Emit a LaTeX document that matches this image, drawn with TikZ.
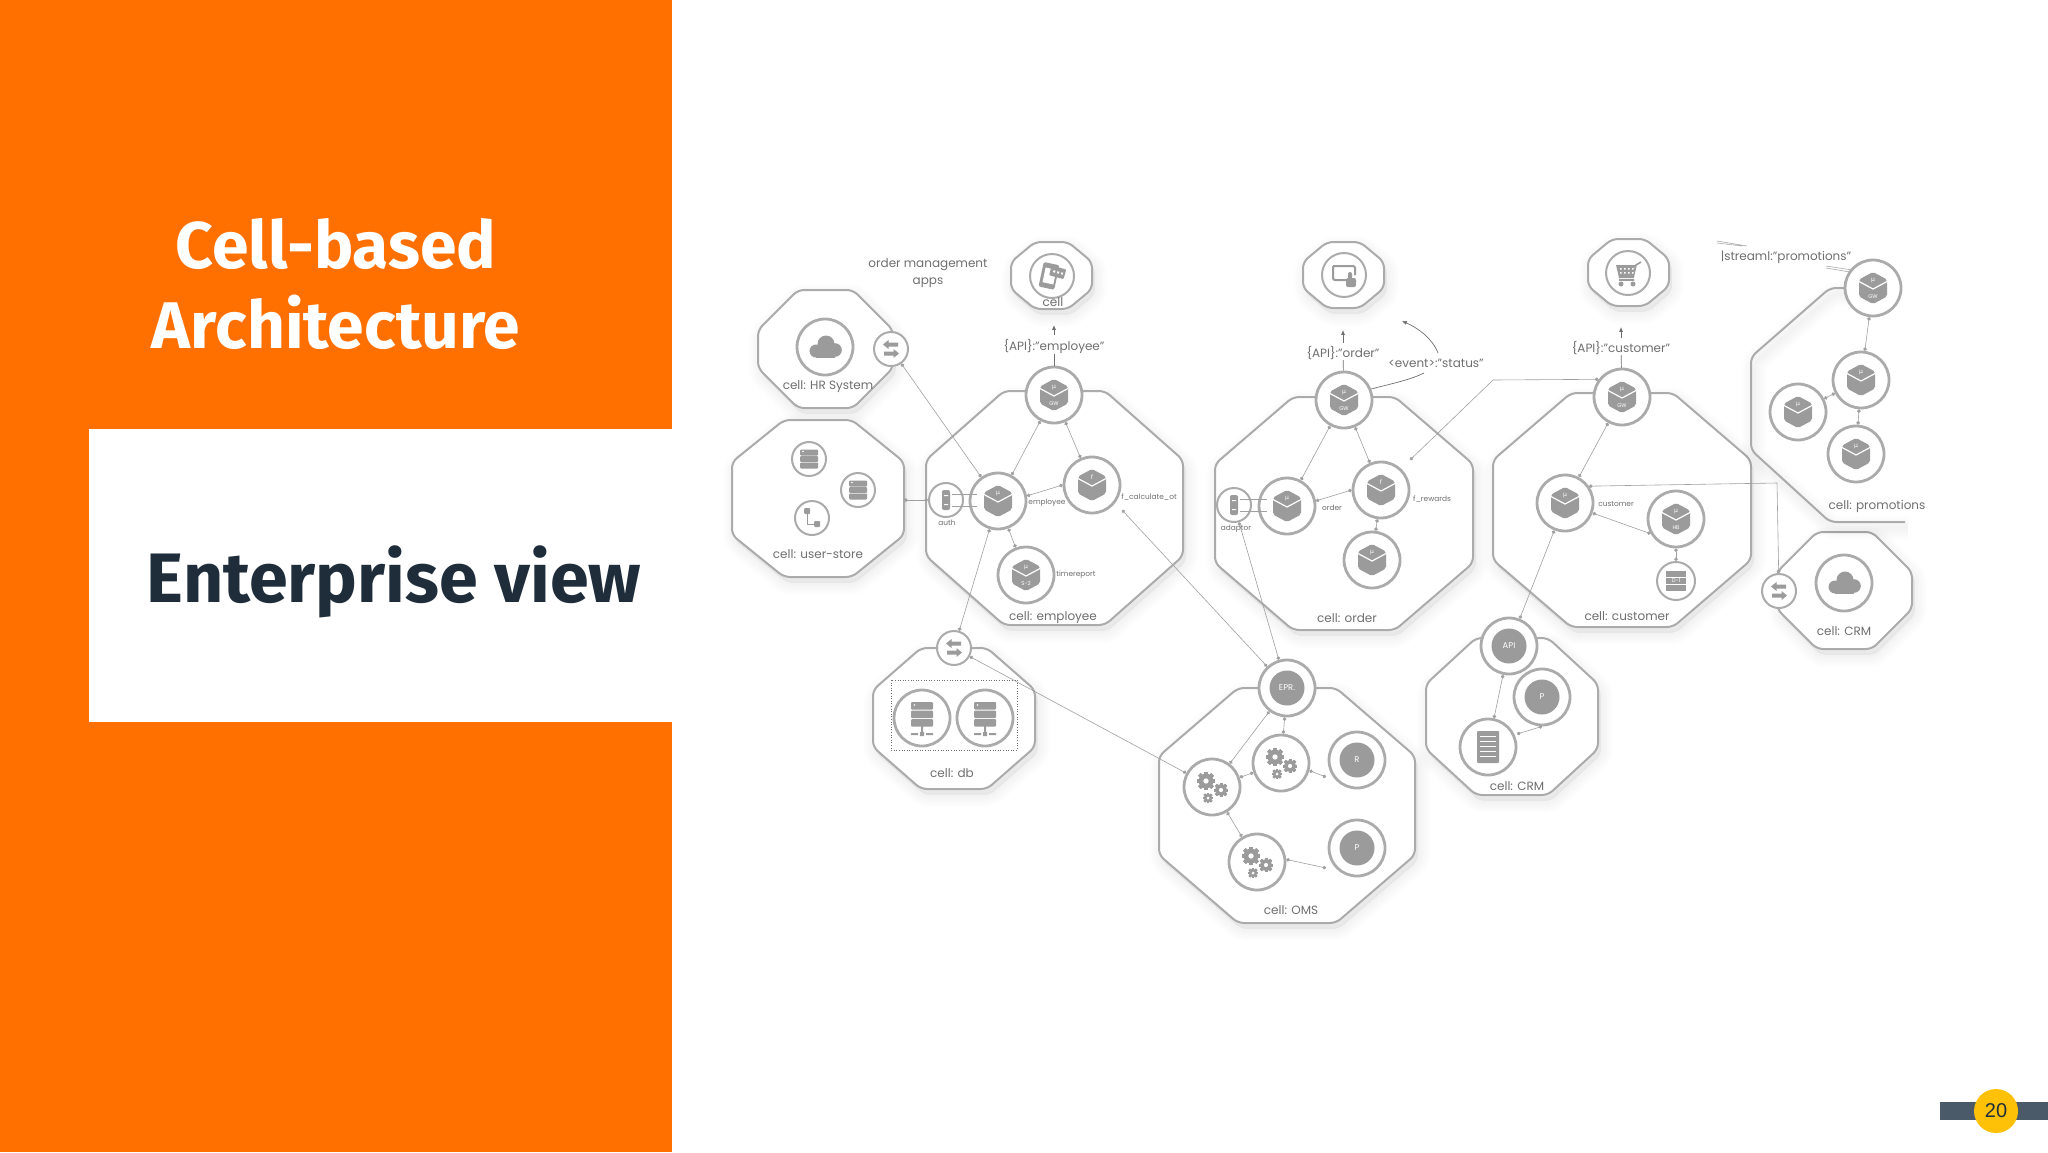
\documentclass[tikz,border=0pt]{standalone}
\usepackage{fontspec}
\setmainfont{Poppins}
\newfontfamily\titlefont{Fira Sans}[BoldFont={Fira Sans Bold}]
\newfontfamily\pagefont{Liberation Sans}
\newfontfamily\mufont{DejaVu Sans}
\usetikzlibrary{arrows.meta}
\definecolor{orangebg}{HTML}{FF7000}
\definecolor{darktxt}{HTML}{1F2D3A}
\definecolor{edgeg}{HTML}{ABABAB}
\definecolor{iconG}{HTML}{9B9B9B}
\definecolor{lineG}{HTML}{A0A0A0}
\definecolor{txtG}{HTML}{6F6F6F}
\definecolor{barG}{HTML}{4A5A68}
\definecolor{badge}{HTML}{FFC107}
\tikzset{
 cellpoly/.style={draw=edgeg,fill=white,line width=1pt,rounded corners=3pt,line join=round},
 shadowpoly/.style={draw=black,fill=black,opacity=.009,rounded corners=3pt},
 svc/.style={circle,draw=edgeg,fill=white,line width=1.4pt,minimum size=28pt,inner sep=0pt},
 svcs/.style={circle,draw=edgeg,fill=white,line width=1pt,minimum size=17pt,inner sep=0pt},
 svcm/.style={circle,draw=edgeg,fill=white,line width=1pt,minimum size=19pt,inner sep=0pt},
 svcl/.style={circle,draw=edgeg,fill=white,line width=1pt,minimum size=22pt,inner sep=0pt},
 link/.style={draw=lineG,line width=.3pt,{Circle[length=1.8pt]}-{Circle[length=1.8pt]}},
 plainlink/.style={draw=lineG,line width=.35pt},
 uparrow/.style={draw=txtG,line width=.35pt,-{Latex[length=2.4pt,width=2pt]}},
 lbl/.style={text=txtG,font=\fontsize{6}{7}\selectfont,inner sep=0pt,align=center},
 lbls/.style={text=txtG,font=\fontsize{3.7}{4}\selectfont,inner sep=0pt},
 intxt/.style={text=white,font=\fontsize{2.7}{3}\selectfont,inner sep=0pt},
 fillI/.style={fill=iconG,draw=none},
}
\newcommand\octpath[6]{({#1+#5},#2)--({#3-#5},#2)--(#3,{#2+#6})--(#3,{#4-#6})--({#3-#5},#4)--({#1+#5},#4)--(#1,{#4-#6})--(#1,{#2+#6})--cycle}
\newcommand\octa[6]{%
 \foreach \w in {12,10,8,6,4,2}{\draw[shadowpoly,line width=\w pt,shift={(1.5pt,-3pt)}] \octpath{#1}{#2}{#3}{#4}{#5}{#6};}
 \draw[cellpoly] \octpath{#1}{#2}{#3}{#4}{#5}{#6};}
\newcommand\cubeicon[4]{\begin{scope}[shift={(#1,#2)}]
 \fill[fillI,rounded corners=1pt] (0,-16)--(14,-8.5)--(14,8.5)--(0,16)--(-14,8.5)--(-14,-8.5)--cycle;
 \draw[white,line width=.6pt] (-14,-6.5)--(0,1)--(14,-6.5);
 \node[intxt,font=\mufont\fontsize{3}{3}\selectfont] at (0,-8) {#3};
 \node[intxt] at (0,8.5) {#4};
\end{scope}}
\newcommand\cloudicon[2]{\begin{scope}[shift={(#1,#2)}]
 \fill[fillI] (1,-3) circle (8.5) (-9,4) circle (6.5) (10,3) circle (6.8);
 \fill[fillI] (-9,2) rectangle (10,10.5);
\end{scope}}
\newcommand\xchg[2]{\begin{scope}[shift={(#1,#2)}]
 \fill[fillI] (-8,-4.5)--(-2.5,-9)--(-2.5,-6.5)--(7,-6.5)--(7,-2.5)--(-2.5,-2.5)--(-2.5,0)--cycle;
 \fill[fillI] (8,4.5)--(2.5,0)--(2.5,2.5)--(-7,2.5)--(-7,6.5)--(2.5,6.5)--(2.5,9)--cycle;
\end{scope}}
\newcommand\stackicon[2]{\begin{scope}[shift={(#1,#2)}]
 \foreach \q in {-9.5,-3,3.5}{\fill[fillI,rounded corners=.5pt] (-9,\q) rectangle (9,{\q+6});}
 \fill[white] (-6,-7.5) circle (.8);
\end{scope}}
\newcommand\srvicon[2]{\begin{scope}[shift={(#1,#2)}]
 \foreach \q in {-16,-7.5,1}{\fill[fillI,rounded corners=.5pt] (-11,\q) rectangle (11,{\q+7.5});}
 \fill[white] (-7.5,-13) circle (.8);
 \fill[fillI] (-1,8) rectangle (1,18) (-11,15) rectangle (-4,17) (4,15) rectangle (11,17) (-2,14) rectangle (2,18);
\end{scope}}
\newcommand\gearone[3]{\begin{scope}[shift={(#1,#2)}]
 \foreach \a in {0,45,...,315}{\fill[fillI,rotate=\a] ({-#3*.26},{-#3*1.25}) rectangle ({#3*.26},{#3*1.25});}
 \fill[fillI] (0,0) circle (#3);
 \fill[white] (0,0) circle ({#3*.36});
\end{scope}}
\newcommand\gearicon[2]{\gearone{{#1-6}}{{#2-6}}{7.4}\gearone{{#1+9}}{{#2+3}}{5.8}\gearone{{#1-4}}{{#2+11}}{4.2}}
\newcommand\plainlabel[4]{\fill[fillI] (#1,#2) circle (17.5); \node[intxt,font=\fontsize{#4}{5}\selectfont] at (#1,#2) {#3};}
\begin{document}
\begin{tikzpicture}[x=.5pt,y=-.5pt]
\useasboundingbox (0,0) rectangle (2048,1152);
\fill[white] (0,0) rectangle (2048,1152);
\fill[orangebg] (0,0) rectangle (672,1152);
\fill[white] (89,429) rectangle (672,722);
\node[text=white,align=center,inner sep=0pt,font=\titlefont\bfseries\fontsize{33}{40}\selectfont] (title) at (336,284) {Cell-based\\Architecture};
\node[text=darktxt,inner sep=0pt,font=\titlefont\bfseries\fontsize{35}{40}\selectfont] (subtitle) at (394,582) {Enterprise view};
% page badge
\fill[barG] (1940,1102) rectangle (2048,1120);
\node[circle,fill=badge,minimum size=22pt,inner sep=0pt,text=darktxt,font=\pagefont\fontsize{10}{12}\selectfont] (page) at (1996,1111) {20};
% cells
\octa{758}{290}{893}{408}{40}{40}
\octa{732}{420}{904}{577}{52}{42}
\octa{926}{391}{1183}{625}{78}{69}
\octa{1011}{242}{1092}{309}{24}{20}
\octa{1303}{242}{1384}{308}{24}{20}
\octa{1588}{239}{1669}{306}{24}{20}
\octa{1215}{397}{1473}{630}{78}{67}
\octa{1493}{393}{1751}{627}{78}{67}
\octa{1777}{532}{1912}{649}{40}{40}
\octa{873}{648}{1035}{789}{48}{42}
\octa{1159}{688}{1415}{923}{79}{68}
\octa{1426}{638}{1598}{795}{50}{46}
% open promotions cell
\foreach \w in {12,10,8,6,4,2}{\draw[shadowpoly,fill=none,line width=\w pt,shift={(1.5pt,-3pt)}] (1873,288)--(1830,288)--(1751,357)--(1751,450)--(1830,522)--(1905,522);}
\draw[cellpoly,fill=none] (1873,288)--(1830,288)--(1751,357)--(1751,450)--(1830,522)--(1905,522);
% dotted group in db
\draw[draw=txtG,densely dotted,line width=.3pt] (891,680) rectangle (1017,750);
% services
\node[svcl] (appE) at (1052,276) {};
\node[svcl] (appO) at (1344,275) {};
\node[svcl] (appC) at (1628,273) {};
\node[svc] (hr) at (825,347) {};
\node[svcs] (hrx) at (891,349) {};
\node[svcs] (st1) at (809,459) {};
\node[svcs] (st2) at (858,490) {};
\node[svcs] (st3) at (812,518) {};
\node[svc] (gwE) at (1054,395) {};
\node[svcs] (auth) at (946,500) {};
\node[svc] (emp) at (998,501) {};
\node[svc] (fcalc) at (1092,485) {};
\node[svc] (trep) at (1026,575) {};
\node[svc] (gwO) at (1344,400) {};
\node[svcs] (adp) at (1234,505) {};
\node[svc] (ord) at (1287,506) {};
\node[svc] (frew) at (1381,490) {};
\node[svc] (ordb) at (1372,560) {};
\node[svc] (gwC) at (1622,397) {};
\node[svc] (cust) at (1565,503) {};
\node[svc] (hb) at (1676,519) {};
\node[svcm] (d1) at (1676,581) {};
\node[svc] (gwP) at (1873,288) {};
\node[svc] (pr1) at (1861,380) {};
\node[svc] (pr2) at (1798,412) {};
\node[svc] (pr3) at (1856,454) {};
\node[svc] (crmc) at (1844,583) {};
\node[svcs] (crmx) at (1779,591) {};
\node[svcs] (dbx) at (954,648) {};
\node[svc] (db1) at (922,718) {};
\node[svc] (db2) at (985,718) {};
\node[svc] (epr) at (1287,688) {};
\node[svc] (rr) at (1357,760) {};
\node[svc] (pp) at (1357,848) {};
\node[svc] (g2) at (1281,763) {};
\node[svc] (g1) at (1212,787) {};
\node[svc] (g3) at (1257,862) {};
\node[svc] (api) at (1509,646) {};
\node[svc] (cp) at (1542,697) {};
\node[svc] (rack) at (1488,747) {};
% free ends
\coordinate (fcalcEnd) at (1122,510);
\coordinate (cTurn) at (1493,380);
\coordinate (frewEnd) at (1410,460);
\coordinate (rrEnd) at (1326,777);
\coordinate (ppEnd) at (1326,868);
\coordinate (cpEnd) at (1517,734);
\coordinate (cBend) at (1777,483);
\coordinate (upE) at (1054,325);
\coordinate (upO) at (1343,330);
\coordinate (upC) at (1621,327);
\coordinate (evA) at (1402,321);
\coordinate (storeEdge) at (904,500);
\coordinate (evB) at (1424,373);
\coordinate (evC) at (1438,353);
% connectors
\draw[link] (hrx) -- (emp);
\draw[link] (gwE) -- (emp);
\draw[link] (gwE) -- (fcalc);
\draw[link] (emp.10) -- (fcalc.180);
\draw[link] (emp) -- (trep);
\draw[link] (auth) -- (storeEdge);
\draw[link] (emp) -- (dbx);
\draw[link] (fcalcEnd) -- (epr);
\draw[link] (gwO) -- (ord);
\draw[link] (gwO) -- (frew);
\draw[link] (ord.10) -- (frew.180);
\draw[link] (frew) -- (ordb);
\draw[link] (adp) -- (epr);
\draw[link] (gwC.143) -- (cTurn) -- (frewEnd);
\draw[link] (gwC) -- (cust);
\draw[link] (cust.-20) -- (hb.210);
\draw[link] (hb) -- (d1);
\draw[link] (cust) -- (api);
\draw[link] (cust.35) -- (cBend) -- (crmx);
\draw[link] (gwP) -- (pr1);
\draw[link] (pr1) -- (pr2);
\draw[link] (pr1) -- (pr3);
\draw[link] (dbx) -- (g1);
\draw[link] (epr) -- (g1);
\draw[link] (epr) -- (g2);
\draw[link] (g1) -- (g2);
\draw[link] (g2.-15) -- (rrEnd);
\draw[link] (g1) -- (g3);
\draw[link] (g3.5) -- (ppEnd);
\draw[link] (api) -- (rack);
\draw[link] (cp.-90) -- (cpEnd);
% auth / adaptor double ties
\draw[plainlink,line width=.5pt] (952,494)--(977,494) (952,506)--(977,506);
\draw[plainlink,line width=.5pt] (1240,499)--(1267,499) (1240,511)--(1267,511);
% labels with arrows
\node[lbl] (lE) at (1054,346) {\{API\}:"employee"};
\node[lbl] (lO) at (1343,353) {\{API\}:"order"};
\node[lbl] (lC) at (1621,348) {\{API\}:"customer"};
\node[lbl] (lEv) at (1436,363) {<event>:"status"};
\node[lbl] (lS) at (1786,257) {|streaml:"promotions"};
\draw[plainlink,draw=txtG] (gwE) -- (lE);
\draw[plainlink,draw=txtG] (gwO) -- (lO);
\draw[plainlink,draw=txtG] (gwC) -- (lC);
\draw[uparrow] (lE.north) ++(0,-3) -- (upE);
\draw[uparrow] (lO.north) ++(0,-3) -- (upO);
\draw[uparrow] (lC.north) ++(0,-3) -- (upC);
\draw[plainlink,draw=txtG] (gwO.22) .. controls (1390,384) and (1410,380) .. (evB);
\draw[uparrow] (evC) .. controls (1432,338) and (1418,328) .. (evA);
\draw[draw=edgeg,line width=.3pt] (1717,241)--(1747,246) (1717,243)--(1742,246);
\draw[draw=edgeg,line width=.3pt] (1826,266)--(1852,270) (1826,268)--(1850,272);
% icons
\begin{scope}[shift={(1052,276)}]
 \fill[fillI,rotate=-12,rounded corners=1pt] (-11,-12) rectangle (5,13);
 \fill[white,rotate=-12] (-8,-7) rectangle (3,8);
 \fill[fillI,rotate=-15,rounded corners=.5pt] (-3,-10) rectangle (12,0);
 \fill[white,rotate=-15] (0,-6) rectangle (2,-4) (4,-6) rectangle (6,-4) (8,-6) rectangle (10,-4);
\end{scope}
\begin{scope}[shift={(1344,275)}]
 \draw[iconG,line width=1pt,rounded corners=1pt] (-11,-9)--(-11,5)--(3,5) (5,-9)--(-11,-9) (11,0)--(11,-9)--(5,-9);
 \fill[fillI,rounded corners=1pt] (4,-3) rectangle (8,4) (2,3) rectangle (12,12);
\end{scope}
\begin{scope}[shift={(1628,273)}]
 \fill[fillI] (-12,-8)--(7,-8)--(5,5)--(-9,5)--cycle;
 \draw[iconG,line width=.8pt] (5,5)--(8,-8)--(13,-11) (-9,7)--(6,7);
 \fill[fillI] (-7,11) circle (2.5) (5,11) circle (2.5);
 \foreach \a in {-8,-4,0,4}{\fill[white] (\a,-5) rectangle ({\a+1.5},-3.5) (\a,-1) rectangle ({\a+1.5},.5);}
\end{scope}
\cloudicon{825}{347}
\cloudicon{1844}{583}
\xchg{891}{349}
\xchg{1779}{591}
\xchg{954}{648}
\stackicon{809}{459}
\stackicon{858}{490}
\begin{scope}[shift={(1676,581)}]
 \foreach \q in {-10,-3,4}{\fill[fillI] (-10,\q) rectangle (10,{\q+6});}
 \node[intxt] at (0,0) {D-1};
\end{scope}
\begin{scope}[shift={(812,518)}]
 \draw[iconG,line width=.4pt] (-5,-6)--(-5,6)--(5,6);
 \fill[fillI,rounded corners=.5pt] (-8,-10) rectangle (-2,-4) (2,3) rectangle (8,9);
\end{scope}
\cubeicon{1054}{395}{µ}{GW}
\cubeicon{998}{501}{µ}{}
\cubeicon{1092}{485}{f}{}
\cubeicon{1026}{575}{µ}{S-2}
\cubeicon{1344}{400}{µ}{GW}
\cubeicon{1287}{506}{µ}{}
\cubeicon{1381}{490}{f}{}
\cubeicon{1372}{560}{µ}{}
\cubeicon{1622}{397}{µ}{GW}
\cubeicon{1565}{503}{µ}{}
\cubeicon{1676}{519}{µ}{HB}
\cubeicon{1873}{288}{µ}{GW}
\cubeicon{1861}{380}{µ}{}
\cubeicon{1798}{412}{µ}{}
\cubeicon{1856}{454}{µ}{}
% auth / adaptor icons
\fill[fillI,rounded corners=1pt] (942,490) rectangle (950,510);
\fill[white] (944,495) rectangle (948,496) (944,504) rectangle (948,505);
\fill[fillI,rounded corners=1pt] (1230,495) rectangle (1238,515);
\fill[white] (1232,500) rectangle (1236,501) (1232,509) rectangle (1236,510);
\srvicon{922}{718}
\srvicon{985}{718}
\gearicon{1281}{763}
\gearicon{1212}{787}
\gearicon{1257}{862}
\plainlabel{1287}{688}{EPR.}{4.2}
\plainlabel{1357}{760}{R}{4.2}
\plainlabel{1357}{848}{P}{4.2}
\plainlabel{1509}{646}{API}{4.2}
\plainlabel{1542}{697}{P}{4.2}
\begin{scope}[shift={(1488,747)}]
 \fill[fillI,rounded corners=.5pt] (-11,-16) rectangle (11,16);
 \foreach \q in {-11,-6,-1,4,9}{\fill[white] (-8,\q) rectangle (8,{\q+1.4});}
\end{scope}
% text labels
\node[lbl,align=center] (tOM) at (928,273) {order management\\[1.2pt]apps};
\node[lbl] (tCell) at (1053,302) {cell};
\node[lbl] (tHR) at (828,387) {cell: HR System};
\node[lbl] (tUS) at (818,554) {cell: user-store};
\node[lbl] (tEmp) at (1053,618) {cell: employee};
\node[lbl] (tOrd) at (1347,618) {cell: order};
\node[lbl] (tCus) at (1627,616) {cell: customer};
\node[lbl] (tPro) at (1877,506) {cell: promotions};
\node[lbl] (tCRM) at (1844,631) {cell: CRM};
\node[lbl] (tDb) at (952,773) {cell: db};
\node[lbl] (tOMS) at (1291,910) {cell: OMS};
\node[lbl] (tCRM2) at (1517,786) {cell: CRM};
\node[lbls] (sEmp) at (1047,503) {employee};
\node[lbls] (sFc) at (1149,497) {f\_calculate\_ot};
\node[lbls] (sAu) at (947,523) {auth};
\node[lbls] (sTr) at (1076,575) {timereport};
\node[lbls] (sOr) at (1332,508) {order};
\node[lbls] (sFr) at (1432,499) {f\_rewards};
\node[lbls] (sAd) at (1236,529) {adaptor};
\node[lbls] (sCu) at (1616,504) {customer};
\end{tikzpicture}
\end{document}
